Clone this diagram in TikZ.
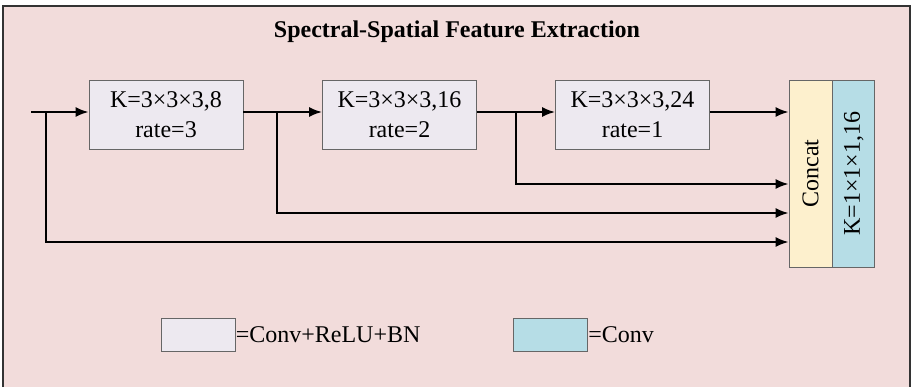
\documentclass[tikz,border=0pt]{standalone}
\usepackage{fontspec}
\setmainfont{Liberation Serif}
\usepackage{tikz}
\usetikzlibrary{shapes.geometric, arrows, arrows.meta}
\definecolor{bgpink}{RGB}{242,220,219}
\definecolor{boxgray}{RGB}{237,233,240}
\definecolor{catyellow}{RGB}{253,240,205}
\definecolor{convblue}{RGB}{182,221,230}
\tikzstyle{arrow} = [line width=1pt,->,>={Latex[length=6.5pt,width=5pt]}]
\tikzstyle{convbox} = [draw=black!60,fill=boxgray,minimum width=77pt,minimum height=34.5pt,align=center,inner sep=1pt]
\tikzstyle{tallbox} = [draw=black!60,minimum height=93.5pt,inner sep=0pt]
\tikzstyle{legbox} = [draw=black!60,minimum width=37pt,minimum height=16.5pt,inner sep=0pt]

\begin{document}
\begin{tikzpicture}[x=0.5pt,y=-0.5pt]
	\useasboundingbox (0,0) rectangle (914,387);
	\begin{scope}[font=\fontsize{12}{15}\selectfont]
		
		% Background:
		% A pink panel, framed on the left, top and right sides
		\fill [bgpink] (3,6) rectangle (910,387);
		\draw [line width=0.8pt,black!80] (3,387) -- (3,6) -- (910,6) -- (910,387);
		
		\node (title) at (457,32) {\textbf{Spectral-Spatial Feature Extraction}};
		
		% Blocks:
		\node [convbox] (blk1) at (166,114.5) {K=3×3×3,8\\rate=3};
		\node [convbox] (blk2) at (399.5,114.5) {K=3×3×3,16\\rate=2};
		\node [convbox] (blk3) at (632.5,114.5) {K=3×3×3,24\\rate=1};
		\node [tallbox,fill=catyellow,minimum width=21.5pt] (concat) at (810.5,173.5) {};
		\node [tallbox,fill=convblue,minimum width=21pt,anchor=west] (conv) at (concat.east) {};
		\node [rotate=90] (concattxt) at (concat.center) {Concat};
		\node [rotate=90] (convtxt) at (conv.center) {K=1×1×1,16};
		
		% Main path:
		\coordinate (in) at (31,112);
		\draw [arrow] (in) -- (in -| blk1.west);
		\draw [arrow] (blk1.east |- in) -- (in -| blk2.west);
		\draw [arrow] (blk2.east |- in) -- (in -| blk3.west);
		\draw [arrow] (blk3.east |- in) -- (in -| concat.west);
		
		% Skip connections:
		% Each one leaves the main path and enters the concat block lower down
		\coordinate (br0) at (46,112);
		\coordinate (br1) at (277,112);
		\coordinate (br2) at (516,112);
		\draw [arrow] (br0) |- (concat.west |- 0,242);
		\draw [arrow] (br1) |- (concat.west |- 0,213);
		\draw [arrow] (br2) |- (concat.west |- 0,184);
		
		% Legend:
		\node [legbox,fill=boxgray] (leg1) at (198,334.5) {};
		\node [anchor=west,inner sep=0pt] (leg1txt) at (leg1.east) {=Conv+ReLU+BN};
		\node [legbox,fill=convblue] (leg2) at (550.5,334.5) {};
		\node [anchor=west,inner sep=0pt] (leg2txt) at (leg2.east) {=Conv};
		
	\end{scope}
\end{tikzpicture}
\end{document}
